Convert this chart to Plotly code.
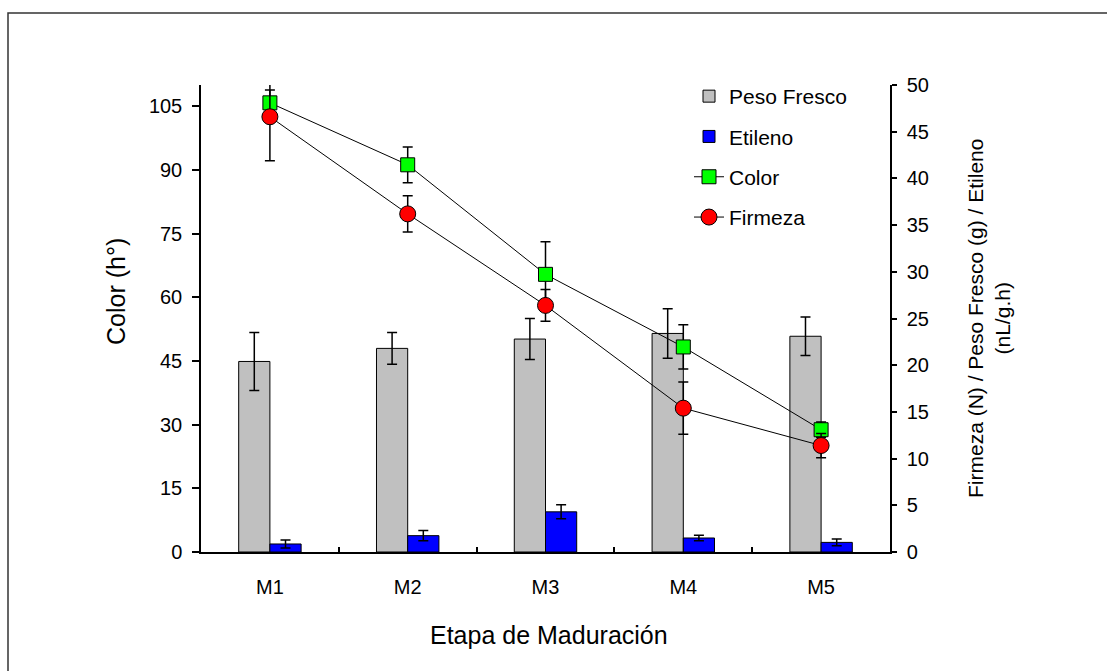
import plotly.graph_objects as go

cats = ["M1", "M2", "M3", "M4", "M5"]
peso = [20.4, 21.8, 22.8, 23.4, 23.1]
peso_err = [3.1, 1.7, 2.2, 2.65, 2.05]
etileno = [0.86, 1.75, 4.3, 1.5, 1.03]
etileno_err = [0.43, 0.54, 0.75, 0.3, 0.35]
color = [105.8, 91.2, 65.4, 48.3, 28.8]
color_err = [3.0, 4.2, 7.7, 5.2, 1.8]
firmeza = [46.6, 36.2, 26.4, 15.4, 11.4]
firmeza_err = [4.7, 1.95, 1.7, 2.8, 1.3]

FONT = "Liberation Sans, Arial, sans-serif"
W, H = 1107, 671
L, R, T, B = 201, 890, 85, 552  # plot area in pixels


def px(xp):
    return (xp - L) / (R - L)


def py(yp):
    return (B - yp) / (B - T)


err_style = dict(color="black", thickness=1.5, width=5)

fig = go.Figure()
fig.add_trace(go.Bar(
    x=cats, y=peso, name="Peso Fresco", legendgroup="a",
    marker=dict(color="#C0C0C0", line=dict(color="black", width=1)),
    error_y=dict(type="data", array=peso_err, **err_style),
    yaxis="y"))
fig.add_trace(go.Bar(
    x=cats, y=etileno, name="Etileno", legendgroup="b",
    marker=dict(color="#0000FF", line=dict(color="black", width=1)),
    error_y=dict(type="data", array=etileno_err, **err_style),
    yaxis="y"))
fig.add_trace(go.Scatter(
    x=cats, y=color, name="Color", legendgroup="c", mode="lines+markers",
    line=dict(color="black", width=1),
    marker=dict(symbol="square", size=14, color="#00FF00",
                line=dict(color="black", width=1)),
    error_y=dict(type="data", array=color_err, **err_style),
    yaxis="y2"))
fig.add_trace(go.Scatter(
    x=cats, y=firmeza, name="Firmeza", legendgroup="d", mode="lines+markers",
    line=dict(color="black", width=1),
    marker=dict(symbol="circle", size=16, color="#FF0000",
                line=dict(color="black", width=1)),
    error_y=dict(type="data", array=firmeza_err, **err_style),
    yaxis="y3"))

fig.update_layout(
    width=W, height=H,
    margin=dict(l=L, r=W - R, t=T, b=H - B, pad=0),
    paper_bgcolor="white", plot_bgcolor="white",
    font=dict(family=FONT, size=20, color="black"),
    barmode="group", bargap=0.547, bargroupgap=0,
    showlegend=True,
    legend=dict(x=px(689), y=py(76), xanchor="left", yanchor="top",
                bgcolor="rgba(0,0,0,0)", font=dict(size=21),
                tracegroupgap=10, traceorder="grouped"),
    xaxis=dict(type="category", showline=True, linecolor="black", linewidth=1.5,
               ticks="inside", ticklen=5, tickcolor="black", tickwidth=1.5,
               tickson="boundaries", showgrid=False, zeroline=False,
               ticklabelstandoff=16, tickfont=dict(size=20)),
    yaxis=dict(side="right", range=[0, 50], dtick=5, showline=True,
               linecolor="black", linewidth=1.5, ticks="outside", ticklen=5,
               tickcolor="black", tickwidth=1.5, showgrid=False, zeroline=False,
               ticklabelstandoff=6, tickfont=dict(size=20)),
    yaxis2=dict(overlaying="y", side="left", range=[0, 110], dtick=15,
                showline=True, linecolor="black", linewidth=1.5,
                ticks="outside", ticklen=7, tickcolor="black", tickwidth=1.5,
                showgrid=False, zeroline=False, ticklabelstandoff=6,
                tickfont=dict(size=20)),
    yaxis3=dict(overlaying="y", range=[0, 50], visible=False),
    shapes=[dict(type="rect", xref="paper", yref="paper",
                 x0=px(8), x1=px(1120), y0=py(690), y1=py(13),
                 line=dict(color="#333333", width=1.5), layer="below")],
    annotations=[
        dict(text="Etapa de Maduración", xref="paper", yref="paper",
             x=px(549), y=py(635), xanchor="center", yanchor="middle",
             showarrow=False, font=dict(size=25)),
        dict(text="Color (h°)", xref="paper", yref="paper",
             x=px(116), y=py(292), xanchor="center", yanchor="middle",
             textangle=-90, showarrow=False, font=dict(size=25)),
        dict(text="Firmeza (N) / Peso Fresco (g) / Etileno<br>(nL/g.h)",
             xref="paper", yref="paper",
             x=px(989), y=py(318), xanchor="center", yanchor="middle",
             textangle=-90, showarrow=False, font=dict(size=21)),
    ],
)

fig.write_html("out.html")
